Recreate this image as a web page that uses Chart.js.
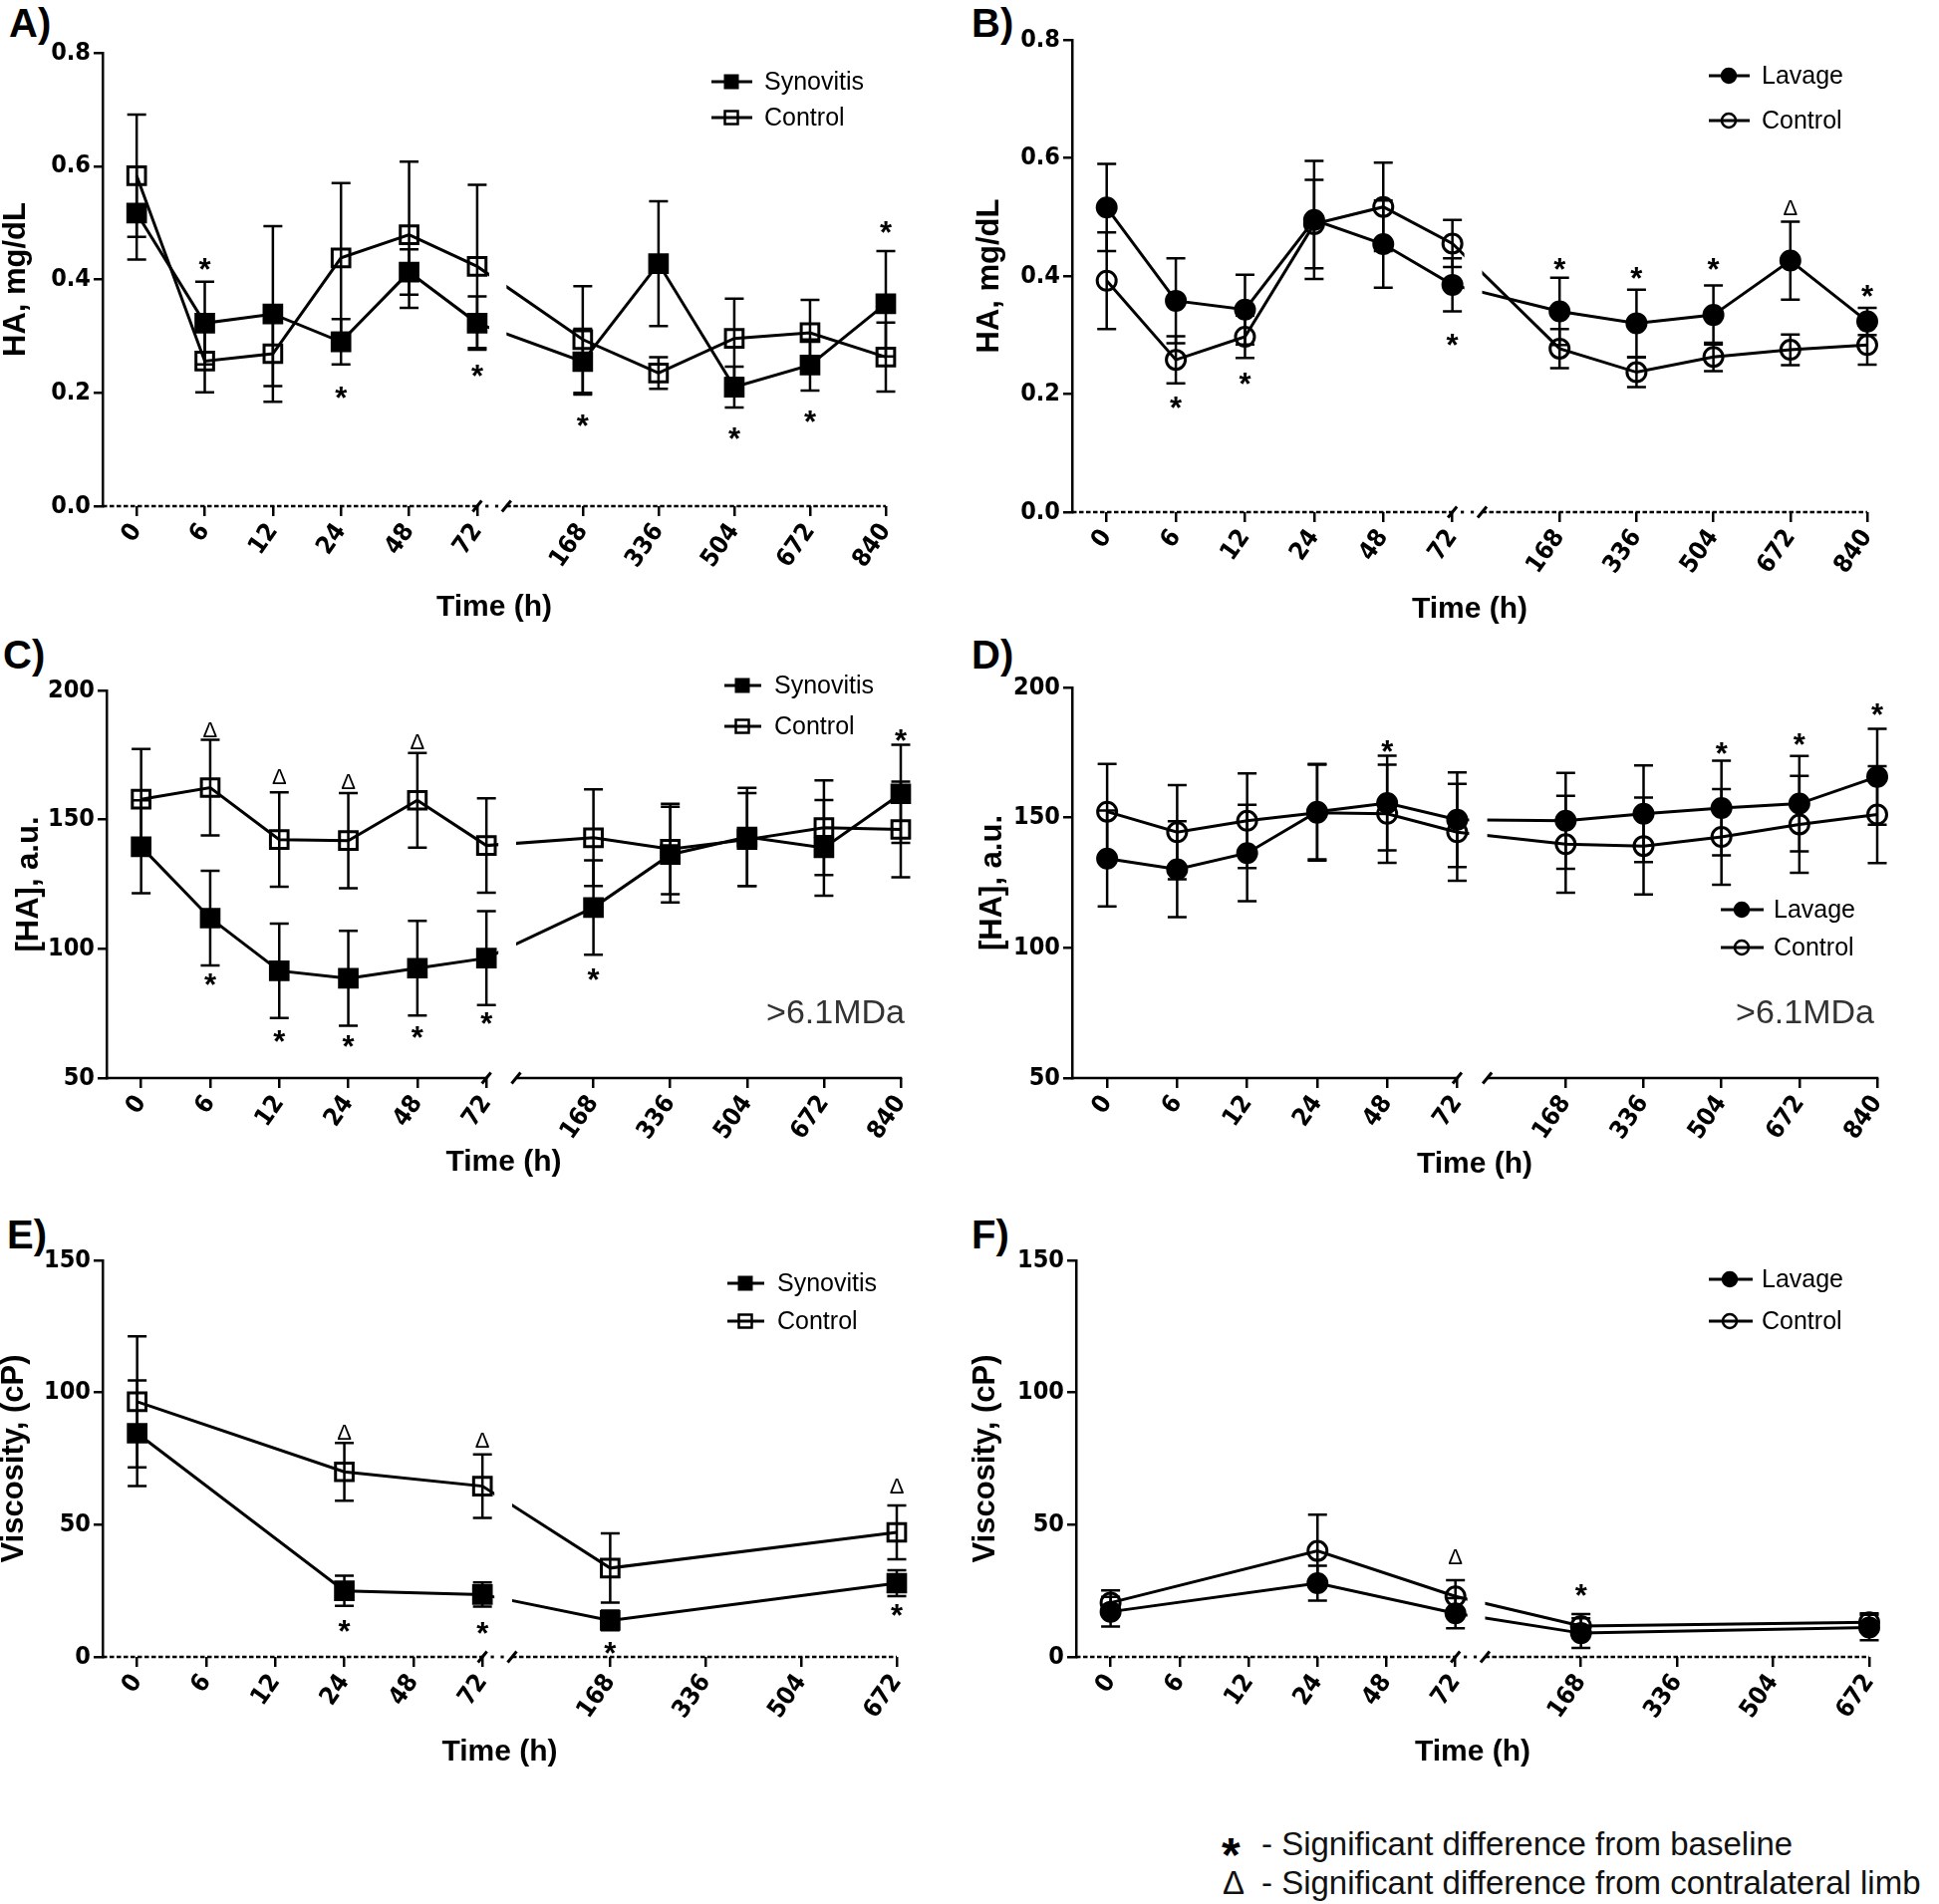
<!DOCTYPE html>
<html><head><meta charset="utf-8">
<script src="https://cdn.jsdelivr.net/npm/chart.js@4.4.1/dist/chart.umd.min.js"></script>
<style>
html,body{margin:0;padding:0;background:#fff;}
body{width:1946px;height:1911px;position:relative;overflow:hidden;font-family:'Liberation Sans',Arial,Helvetica,sans-serif;}
canvas{position:absolute;}
.lbl{position:absolute;font-weight:bold;font-size:40px;line-height:40px;color:#000;white-space:nowrap;}
.note{position:absolute;font-size:33px;line-height:33px;color:#111;white-space:nowrap;}
</style></head><body>
<div class="lbl" style="left:9px;top:3px">A)</div>
<div class="lbl" style="left:975px;top:3px">B)</div>
<div class="lbl" style="left:3px;top:637px">C)</div>
<div class="lbl" style="left:975px;top:637px">D)</div>
<div class="lbl" style="left:7px;top:1219px">E)</div>
<div class="lbl" style="left:975px;top:1219px">F)</div>
<div class="note" style="left:1226px;top:1838px;font-size:48px;line-height:48px;font-weight:bold;color:#000">*</div>
<div class="note" style="left:1266px;top:1834px">- Significant difference from baseline</div>
<div class="note" style="left:1227px;top:1873px">&Delta;</div>
<div class="note" style="left:1266px;top:1873px">- Significant difference from contralateral limb</div>
<script>
// ---------------- DATA ----------------
const timeLong  = ['0','6','12','24','48','72','168','336','504','672','840'];
const timeShort = ['0','6','12','24','48','72','168','336','504','672'];

// A) HA, mg/dL - synovitis model
const haSynovitis      = [0.517,0.323,0.339,0.290,0.413,0.323,0.255,0.428,0.210,0.249,0.357];
const haSynovitisSEM   = [0.082,0.073,0.155,0.040,0.040,0.047,0.058,0.110,0.036,0.045,0.093];
const haSynControl     = [0.583,0.256,0.269,0.438,0.479,0.423,0.294,0.235,0.296,0.306,0.263];
const haSynControlSEM  = [0.108,0.055,0.057,0.132,0.129,0.144,0.094,0.028,0.070,0.058,0.061];
const haSynNotes = [['6',0.430,'*'],['24',0.204,'*'],['72',0.242,'*'],['168',0.154,'*'],['504',0.131,'*'],['672',0.161,'*'],['840',0.495,'*']];

// B) HA, mg/dL - lavage model
const haLavage         = [0.516,0.358,0.343,0.495,0.454,0.385,0.340,0.320,0.334,0.426,0.323];
const haLavageSEM      = [0.074,0.072,0.059,0.100,0.074,0.045,0.057,0.057,0.050,0.066,0.023];
const haLavControl     = [0.392,0.258,0.297,0.488,0.517,0.455,0.277,0.237,0.263,0.275,0.283];
const haLavControlSEM  = [0.082,0.040,0.036,0.075,0.075,0.040,0.033,0.025,0.024,0.026,0.033];
const haLavNotes = [['6',0.189,'*'],['12',0.230,'*'],['72',0.296,'*'],['168',0.423,'*'],['336',0.409,'*'],['504',0.423,'*'],['672',0.516,'Δ'],['840',0.378,'*']];

// C) [HA] >6.1MDa - synovitis model
const mwSynovitis      = [139.5,111.9,91.5,88.6,92.5,96.4,116.0,136.5,143.3,139.1,160.0];
const mwSynovitisSEM   = [18.0,18.3,18.3,18.4,18.3,18.2,18.3,18.5,19.0,18.5,19.0];
const mwSynControl     = [157.9,162.4,142.3,141.9,157.5,140.0,143.0,138.6,142.3,146.9,146.2];
const mwSynControlSEM  = [19.4,18.5,18.3,18.4,18.3,18.3,18.7,17.5,18.0,18.3,18.5];
const mwSynNotes = [['6',184.8,'Δ'],['12',166.8,'Δ'],['24',165.1,'Δ'],['48',180.4,'Δ'],['6',89.0,'*'],['12',67.0,'*'],['24',65.2,'*'],['48',68.5,'*'],['72',73.8,'*'],['168',90.7,'*'],['840',183.4,'*']];

// D) [HA] >6.1MDa - lavage model
const mwLavage         = [134.3,130.2,136.4,152.3,155.6,149.2,148.8,151.5,153.7,155.4,165.7];
const mwLavageSEM      = [18.4,18.4,18.5,18.3,18.2,18.2,18.4,18.6,18.2,18.3,18.4];
const mwLavControl     = [152.3,144.4,148.8,151.9,151.5,144.4,139.8,139.1,142.6,147.4,151.2];
const mwLavControlSEM  = [18.3,18.1,18.2,18.4,18.8,18.6,18.6,18.6,18.4,18.6,18.6];
const mwLavNotes = [['48',178.0,'*'],['504',177.3,'*'],['672',180.8,'*'],['840',192.4,'*']];

// E) Viscosity - synovitis model
const viscSynovitis     = [84.6,null,null,25.0,null,23.6,13.8,null,null,27.9];
const viscSynovitisSEM  = [20.0,null,null,5.7,null,4.6,3.7,null,null,4.9];
const viscSynControl    = [96.5,null,null,70.0,null,64.6,33.6,null,null,47.1];
const viscSynControlSEM = [24.8,null,null,10.9,null,12.0,13.1,null,null,10.2];
const viscSynNotes = [['24',85.2,'Δ'],['72',82.2,'Δ'],['672',65.0,'Δ'],['24',12.4,'*'],['72',11.7,'*'],['168',4.3,'*'],['672',18.5,'*']];

// F) Viscosity - lavage model
const viscLavage        = [17.1,null,null,27.9,null,16.5,9.0,null,null,11.1];
const viscLavageSEM     = [5.6,null,null,6.6,null,5.7,5.6,null,null,4.8];
const viscLavControl    = [20.5,null,null,40.1,null,22.9,11.7,null,null,13.1];
const viscLavControlSEM = [4.7,null,null,13.7,null,6.1,4.5,null,null,3.4];
const viscLavNotes = [['72',38.0,'Δ'],['168',25.9,'*']];

// ---------------- LAYOUT ----------------
const FONT = "'Liberation Sans', Arial, Helvetica, sans-serif";
const TICKFONT = "'DejaVu Sans Condensed', 'Liberation Sans Narrow', 'Liberation Sans', Arial, sans-serif";
Chart.defaults.font.family = FONT;
Chart.defaults.color = '#000';

const panels = [
  {id:'A', cats:timeLong, rightFirst:7.05, yMin:0, yMax:0.8, yStep:0.2, dec:1, yTitle:'HA, mg/dL', dotted:true,
   series:[{label:'Synovitis', values:haSynovitis, err:haSynovitisSEM, shape:'rect', filled:true},
           {label:'Control', values:haSynControl, err:haSynControlSEM, shape:'rect', filled:false}],
   notes:haSynNotes, tag:null,
   geo:{left:0, top:0, w:973, h:640, axisX:103, right:889, plotTop:53, plotBottom:508, titleY:610, yTitleX:16},
   legend:{x0:714, x1:755, mx:734, tx:767, ys:[82,118]}},
  {id:'B', cats:timeLong, rightFirst:7.05, yMin:0, yMax:0.8, yStep:0.2, dec:1, yTitle:'HA, mg/dL', dotted:true,
   series:[{label:'Lavage', values:haLavage, err:haLavageSEM, shape:'circle', filled:true},
           {label:'Control', values:haLavControl, err:haLavControlSEM, shape:'circle', filled:false}],
   notes:haLavNotes, tag:null,
   geo:{left:973, top:0, w:973, h:640, axisX:103, right:901, plotTop:40, plotBottom:514, titleY:612, yTitleX:20},
   legend:{x0:742, x1:783, mx:762, tx:795, ys:[76,121]}},
  {id:'C', cats:timeLong, rightFirst:7.05, yMin:50, yMax:200, yStep:50, dec:0, yTitle:'[HA], a.u.', dotted:false,
   series:[{label:'Synovitis', values:mwSynovitis, err:mwSynovitisSEM, shape:'rect', filled:true},
           {label:'Control', values:mwSynControl, err:mwSynControlSEM, shape:'rect', filled:false}],
   notes:mwSynNotes, tag:'>6.1MDa',
   geo:{left:0, top:640, w:973, h:580, axisX:107, right:904, plotTop:53, plotBottom:442, titleY:527, yTitleX:29},
   legend:{x0:727, x1:764, mx:745, tx:777, ys:[48,89]}},
  {id:'D', cats:timeLong, rightFirst:7.05, yMin:50, yMax:200, yStep:50, dec:0, yTitle:'[HA], a.u.', dotted:false,
   series:[{label:'Lavage', values:mwLavage, err:mwLavageSEM, shape:'circle', filled:true},
           {label:'Control', values:mwLavControl, err:mwLavControlSEM, shape:'circle', filled:false}],
   notes:mwLavNotes, tag:'>6.1MDa',
   geo:{left:973, top:640, w:973, h:580, axisX:103, right:911, plotTop:50, plotBottom:442, titleY:529, yTitleX:23},
   legend:{x0:754, x1:797, mx:775, tx:807, ys:[273,311]}},
  {id:'E', cats:timeShort, rightFirst:7.35, yMin:0, yMax:150, yStep:50, dec:0, yTitle:'Viscosity, (cP)', dotted:true,
   series:[{label:'Synovitis', values:viscSynovitis, err:viscSynovitisSEM, shape:'rect', filled:true},
           {label:'Control', values:viscSynControl, err:viscSynControlSEM, shape:'rect', filled:false}],
   notes:viscSynNotes, tag:null,
   geo:{left:0, top:1220, w:973, h:580, axisX:103, right:900, plotTop:45, plotBottom:443, titleY:539, yTitleX:14},
   legend:{x0:730, x1:767, mx:748, tx:780, ys:[68,106]}},
  {id:'F', cats:timeShort, rightFirst:7.32, yMin:0, yMax:150, yStep:50, dec:0, yTitle:'Viscosity, (cP)', dotted:true,
   series:[{label:'Lavage', values:viscLavage, err:viscLavageSEM, shape:'circle', filled:true},
           {label:'Control', values:viscLavControl, err:viscLavControlSEM, shape:'circle', filled:false}],
   notes:viscLavNotes, tag:null,
   geo:{left:973, top:1220, w:973, h:580, axisX:107, right:903, plotTop:45, plotBottom:443, titleY:539, yTitleX:16},
   legend:{x0:742, x1:786, mx:763, tx:795, ys:[64,106]}}
];

// axis units: left segment ticks at 0.5..5.5, right segment spread up to 11.5
function xPositions(cats, rightFirst) {
  const nR = cats.length - 6;
  const step = (11.5 - rightFirst) / (nR - 1);
  return cats.map((c, i) => i < 6 ? i + 0.5 : rightFirst + (i - 6) * step);
}

function makeDecor(p, xpos) {
  return {
    id: 'decor' + p.id,
    beforeDatasetsDraw(chart) {
      const {ctx, scales: {x, y}} = chart;
      ctx.save();
      ctx.strokeStyle = '#000'; ctx.lineWidth = 2.5;
      p.series.forEach(s => s.values.forEach((v, i) => {
        const e = s.err[i];
        if (v == null || e == null) return;
        const px = x.getPixelForValue(xpos[i]);
        const t = y.getPixelForValue(v + e), b = y.getPixelForValue(v - e);
        ctx.beginPath();
        ctx.moveTo(px, t); ctx.lineTo(px, b);
        ctx.moveTo(px - 9.5, t); ctx.lineTo(px + 9.5, t);
        ctx.moveTo(px - 9.5, b); ctx.lineTo(px + 9.5, b);
        ctx.stroke();
      }));
      ctx.restore();
      // hide connecting lines inside the axis break
      const g0 = x.getPixelForValue(5.5) + 12, g1 = x.getPixelForValue(5.93);
      ctx.save();
      ctx.beginPath();
      ctx.rect(0, 0, g0, chart.height);
      ctx.rect(g1, 0, chart.width - g1, chart.height);
      ctx.clip();
    },
    afterDatasetsDraw(chart) {
      const {ctx, chartArea: ca, scales: {x, y}} = chart;
      ctx.restore();
      // broken x axis
      const yb = ca.bottom;
      const s1 = x.getPixelForValue(5.5), s2 = x.getPixelForValue(5.93);
      ctx.save();
      ctx.strokeStyle = '#000'; ctx.fillStyle = '#000'; ctx.lineWidth = 2.5;
      if (p.dotted) {
        ctx.setLineDash([4.5, 2.5]);
        ctx.beginPath(); ctx.moveTo(ca.left, yb); ctx.lineTo(s1, yb);
        ctx.moveTo(s2, yb); ctx.lineTo(ca.right, yb); ctx.stroke();
        ctx.setLineDash([]);
        [1, 2].forEach(k => { const cx = s1 + (s2 - s1) * k / 3; ctx.fillRect(cx - 1.6, yb - 1.4, 3.2, 2.8); });
      } else {
        ctx.beginPath(); ctx.moveTo(ca.left - 1.25, yb); ctx.lineTo(s1, yb);
        ctx.moveTo(s2, yb); ctx.lineTo(ca.right + 1.25, yb); ctx.stroke();
      }
      ctx.lineWidth = 3;
      [s1, s2].forEach(cx => { ctx.beginPath(); ctx.moveTo(cx - 4.5, yb + 5.5); ctx.lineTo(cx + 4.5, yb - 5.5); ctx.stroke(); });
      // significance marks
      ctx.textAlign = 'center'; ctx.textBaseline = 'alphabetic';
      p.notes.forEach(([cat, val, sym]) => {
        const i = p.cats.indexOf(cat);
        const px = x.getPixelForValue(xpos[i]), py = y.getPixelForValue(val);
        if (sym === '*') { ctx.font = 'bold 31px ' + FONT; ctx.fillText('*', px, py + 18); }
        else { ctx.font = '22px ' + FONT; ctx.fillText('Δ', px, py + 8); }
      });
      // legend
      const L = p.legend;
      p.series.forEach((s, k) => {
        const ly = L.ys[k];
        ctx.lineWidth = 3;
        ctx.beginPath(); ctx.moveTo(L.x0, ly); ctx.lineTo(L.x1, ly); ctx.stroke();
        ctx.lineWidth = 2.5;
        if (s.shape === 'rect') {
          if (s.filled) ctx.fillRect(L.mx - 7.5, ly - 7.5, 15, 15);
          else ctx.strokeRect(L.mx - 6.5, ly - 6.5, 13, 13);
        } else {
          ctx.beginPath(); ctx.arc(L.mx, ly, 7, 0, Math.PI * 2);
          if (s.filled) ctx.fill();
          ctx.stroke();
        }
        ctx.font = '25px ' + FONT; ctx.textAlign = 'left'; ctx.textBaseline = 'middle';
        ctx.fillText(s.label, L.tx, ly + 1);
      });
      if (p.tag) {
        ctx.font = '34px ' + FONT; ctx.fillStyle = '#333';
        ctx.textAlign = 'right'; ctx.textBaseline = 'middle';
        ctx.fillText(p.tag, 908, 378);
      }
      ctx.restore();
    }
  };
}

function buildChart(p) {
  const g = p.geo;
  const cv = document.createElement('canvas');
  cv.width = g.w; cv.height = g.h;
  cv.style.left = g.left + 'px'; cv.style.top = g.top + 'px';
  cv.style.width = g.w + 'px'; cv.style.height = g.h + 'px';
  document.body.appendChild(cv);
  const xpos = xPositions(p.cats, p.rightFirst);
  const datasets = p.series.map(s => ({
    label: s.label,
    data: s.values.map((v, i) => ({x: xpos[i], y: v})),
    borderColor: '#000', borderWidth: 3, tension: 0, spanGaps: true, clip: false,
    pointStyle: s.shape, pointRadius: s.shape === 'rect' ? 12.5 : 9.5,
    pointBorderWidth: 3, pointBorderColor: '#000',
    pointBackgroundColor: s.filled ? '#000' : 'rgba(0,0,0,0)',
    order: s.filled ? 1 : 0
  }));
  new Chart(cv, {
    type: 'line',
    data: {datasets},
    options: {
      responsive: false, animation: false, devicePixelRatio: 1, events: [],
      layout: {padding: {left: 0, top: g.plotTop, right: g.w - g.right, bottom: 0}},
      plugins: {legend: {display: false}, tooltip: {enabled: false}},
      scales: {
        x: {
          type: 'linear', min: 0, max: 11.5,
          afterFit: s => { s.height = g.h - g.plotBottom; },
          afterBuildTicks: s => { s.ticks = xpos.map(v => ({value: v})); },
          ticks: {autoSkip: false, minRotation: 55, maxRotation: 55, padding: 2,
                  font: {family: TICKFONT, size: 25, weight: 'bold'}, color: '#000',
                  callback: (v, i) => p.cats[i]},
          grid: {drawOnChartArea: false, drawTicks: true, tickLength: 10, color: '#000', lineWidth: 2.5},
          border: {display: false},
          title: {display: true, text: 'Time (h)', color: '#000', font: {size: 30, weight: 'bold'},
                  padding: {top: 0, bottom: g.h - g.titleY - 18}}
        },
        y: {
          min: p.yMin, max: p.yMax,
          afterFit: s => { s.width = g.axisX; },
          ticks: {stepSize: p.yStep, padding: 3, font: {family: TICKFONT, size: 25, weight: 'bold'}, color: '#000',
                  callback: v => Number(v).toFixed(p.dec)},
          grid: {drawOnChartArea: false, drawTicks: true, tickLength: 9, color: '#000', lineWidth: 2.5},
          border: {display: true, color: '#000', width: 2.5},
          title: {display: true, text: p.yTitle, color: '#000', font: {size: 31, weight: 'bold'},
                  padding: {top: g.yTitleX - 18.6, bottom: 0}}
        }
      }
    },
    plugins: [makeDecor(p, xpos)]
  });
}

panels.forEach(buildChart);
</script>
</body></html>
